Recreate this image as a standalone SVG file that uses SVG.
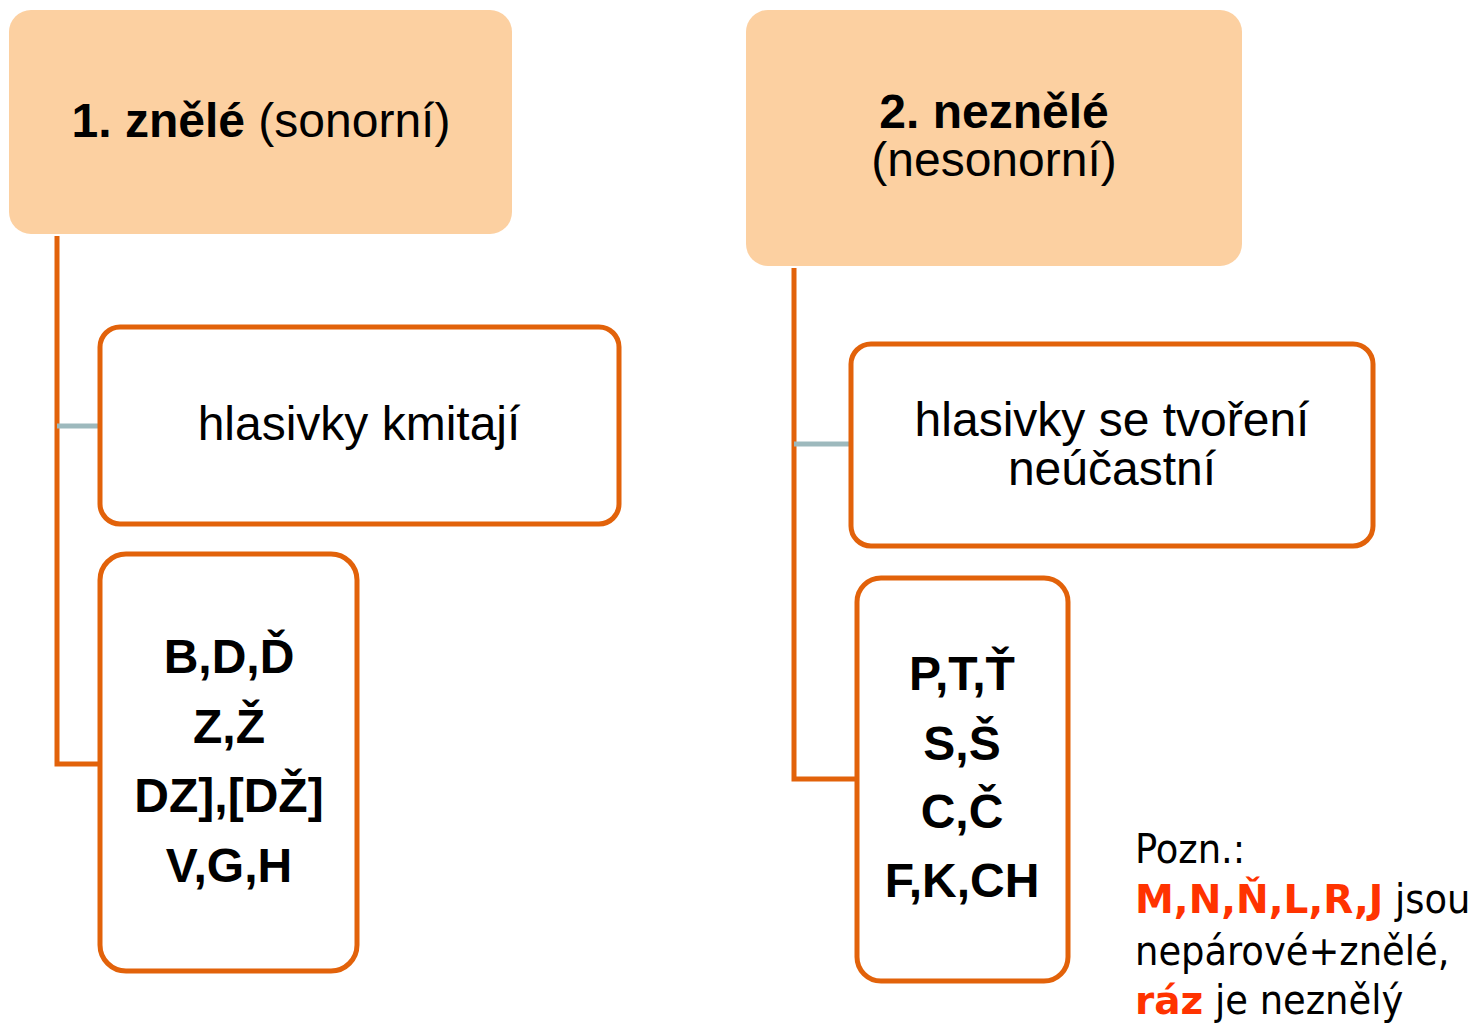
<svg xmlns="http://www.w3.org/2000/svg" width="1477" height="1023" viewBox="0 0 1477 1023">
<style>
.head{fill:#FCD0A1;stroke:none}
.box{fill:#FFFFFF;stroke:#E2620A;stroke-width:5}
.conn{fill:none;stroke:#E2620A;stroke-width:5;stroke-linejoin:miter}
.stub{fill:none;stroke:#9DB9BD;stroke-width:5}
.t{font-family:"Liberation Sans",Arial,sans-serif;font-size:48px;fill:#000;text-anchor:middle}
.b{font-weight:bold}
.n{font-family:"DejaVu Sans Condensed","DejaVu Sans",sans-serif;font-size:41px;fill:#000}
.r{font-family:"DejaVu Sans",sans-serif;font-size:39px;fill:#FF3300;font-weight:bold}
</style>
<rect width="1477" height="1023" fill="#FFFFFF"/>
<g id="connectors">
<path class="conn" d="M57,236 V764 H100"/>
<path class="stub" d="M57,426 H100"/>
<path class="conn" d="M794,268 V779 H856"/>
<path class="stub" d="M794,444 H850"/>
</g>
<g id="node-znele">
<rect class="head" x="9" y="10" width="503" height="224" rx="22"/>
<text class="t" x="261" y="137"><tspan class="b">1. znělé</tspan> (sonorní)</text>
</g>
<g id="node-neznele">
<rect class="head" x="746" y="10" width="496" height="256" rx="22"/>
<text class="t" x="994" y="128"><tspan class="b">2. neznělé</tspan></text>
<text class="t" x="994" y="176">(nesonorní)</text>
</g>
<g id="node-kmitaji">
<rect class="box" x="100" y="327" width="519" height="197" rx="20"/>
<text class="t" x="359" y="440">hlasivky kmitají</text>
</g>
<g id="node-znele-hlasky">
<rect class="box" x="100" y="554" width="257" height="417" rx="26"/>
<text class="t b" x="229" y="673">B,D,Ď</text>
<text class="t b" x="229" y="743">Z,Ž</text>
<text class="t b" x="229" y="812">DZ],[DŽ]</text>
<text class="t b" x="229" y="882">V,G,H</text>
</g>
<g id="node-neucastni">
<rect class="box" x="851" y="344" width="522" height="202" rx="20"/>
<text class="t" x="1112" y="436">hlasivky se tvoření</text>
<text class="t" x="1112" y="485">neúčastní</text>
</g>
<g id="node-neznele-hlasky">
<rect class="box" x="857" y="578" width="211" height="403" rx="24"/>
<text class="t b" x="962" y="690">P,T,Ť</text>
<text class="t b" x="962" y="760">S,Š</text>
<text class="t b" x="962" y="828">C,Č</text>
<text class="t b" x="962" y="897">F,K,CH</text>
</g>
<g id="note">
<text class="n" x="1135" y="863">Pozn.:</text>
<text class="n" x="1135" y="913"><tspan class="r">M,N,Ň,L,R,J</tspan> jsou</text>
<text class="n" x="1135" y="965">nepárové+znělé,</text>
<text class="n" x="1135" y="1014"><tspan class="r">ráz</tspan> je neznělý</text>
</g>
</svg>
